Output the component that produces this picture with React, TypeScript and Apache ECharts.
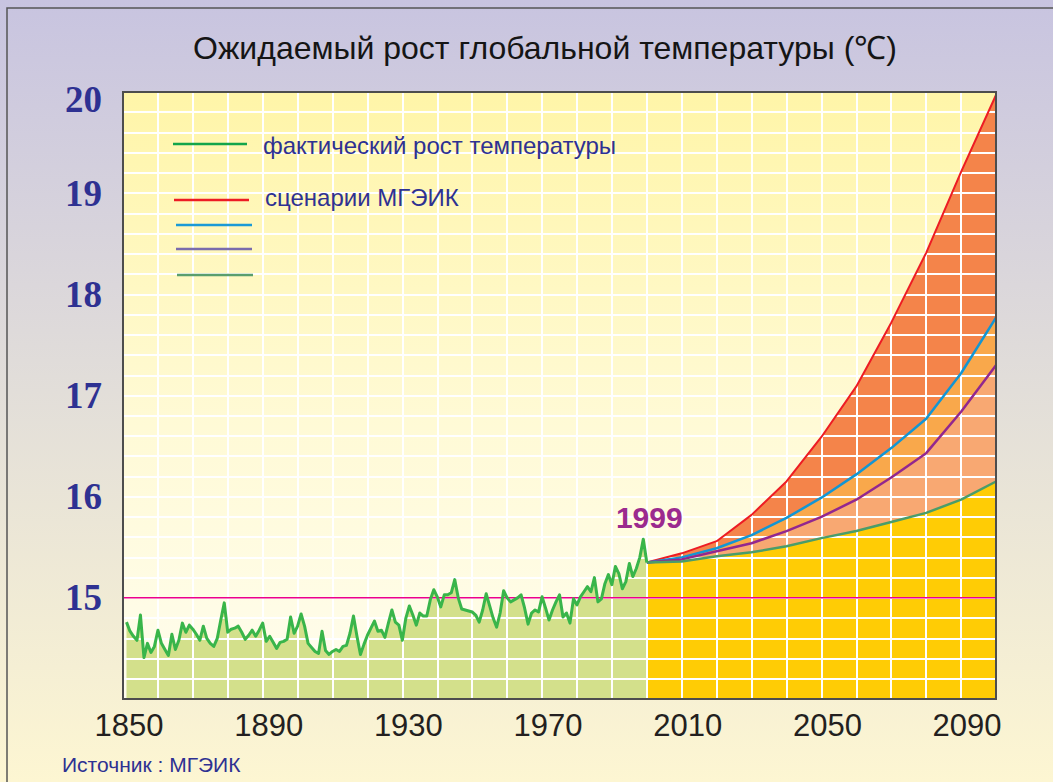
import React, { useEffect, useRef } from 'react';
import * as echarts from 'echarts';

const TITLE = 'Ожидаемый рост глобальной температуры (℃)';
const SOURCE = 'Источник : МГЭИК';
const LEGEND_ACTUAL = 'фактический рост температуры';
const LEGEND_IPCC = 'сценарии МГЭИК';
const HIGHLIGHT_YEAR = 1999;

const histStartYear = 1851;
const histTemps = [
  14.76, 14.67, 14.62, 14.58, 14.83, 14.41, 14.55, 14.46, 14.52, 14.68,
  14.55, 14.49, 14.43, 14.64, 14.49, 14.58, 14.75, 14.66, 14.73, 14.69,
  14.64, 14.58, 14.72, 14.60, 14.55, 14.52, 14.60, 14.78, 14.95, 14.66,
  14.69, 14.70, 14.72, 14.66, 14.59, 14.63, 14.68, 14.62, 14.68, 14.75,
  14.57, 14.62, 14.56, 14.50, 14.56, 14.57, 14.59, 14.81, 14.65, 14.72,
  14.84, 14.72, 14.55, 14.51, 14.47, 14.45, 14.67, 14.48, 14.44, 14.47,
  14.49, 14.47, 14.52, 14.53, 14.65, 14.82, 14.62, 14.44, 14.54, 14.63,
  14.70, 14.77, 14.67, 14.68, 14.61, 14.75, 14.88, 14.76, 14.73, 14.58,
  14.80, 14.92, 14.83, 14.73, 14.85, 14.82, 14.82, 14.98, 15.08, 15.01,
  14.91, 15.03, 15.03, 15.05, 15.18, 15.00, 14.89, 14.88, 14.87, 14.86,
  14.83, 14.76, 14.88, 15.04, 14.92, 14.80, 14.71, 14.85, 15.07, 15.00,
  14.96, 14.98, 15.00, 15.03, 14.90, 14.74, 14.85, 14.88, 14.86, 15.01,
  14.90, 14.78, 14.88, 14.96, 15.03, 14.81, 14.85, 14.75, 14.99, 14.93,
  15.01, 15.06, 15.11, 15.06, 15.20, 14.96, 14.99, 15.14, 15.23, 15.13,
  15.31, 15.24, 15.09, 15.16, 15.34, 15.21, 15.29, 15.40, 15.58,
];

const projYears = [2000, 2010, 2020, 2030, 2040, 2050, 2060, 2070, 2080, 2090, 2100];
const scenarioRed = [15.35, 15.44, 15.56, 15.82, 16.15, 16.59, 17.09, 17.72, 18.41, 19.21, 19.97];
const scenarioBlue = [15.35, 15.40, 15.49, 15.62, 15.79, 15.99, 16.22, 16.48, 16.77, 17.22, 17.77];
const scenarioPurple = [15.35, 15.38, 15.46, 15.54, 15.66, 15.80, 15.97, 16.19, 16.43, 16.84, 17.30];
const scenarioGreen = [15.35, 15.36, 15.41, 15.45, 15.51, 15.59, 15.66, 15.75, 15.84, 15.97, 16.15];

const baselineTemp = 15;
const xMin = 1850;
const xMax = 2100;
const xLabelYears = [1850, 1890, 1930, 1970, 2010, 2050, 2090];
const yMin = 14;
const yMax = 20;
const yLabelValues = [15, 16, 17, 18, 19, 20];

const FONT = '"Liberation Sans", Arial, sans-serif';
const SERIF = '"Liberation Serif", "Times New Roman", serif';
const BLUE_TEXT = '#2e3192';

export default function App() {
  const ref = useRef<HTMLDivElement>(null);

  useEffect(() => {
    if (!ref.current) return;
    const chart = echarts.init(ref.current, undefined, { renderer: 'svg' });

    const histPairs = histTemps.map((v, i) => [histStartYear + i, v]);
    const histWithJoin = [...histPairs, [projYears[0], scenarioGreen[0]]];
    const pairs = (arr: number[]) => projYears.map((y, i) => [y, arr[i]]);

    const areaSeries = (name: string, data: any[], color: string) => ({
      name,
      type: 'line',
      data,
      z: 1,
      symbol: 'none',
      silent: true,
      lineStyle: { width: 0, opacity: 0 },
      areaStyle: { color, opacity: 1, origin: 'start' },
    });
    const lineSeries = (name: string, data: any[], color: string, width: number, z = 4) => ({
      name,
      type: 'line',
      data,
      z,
      symbol: 'none',
      silent: true,
      lineStyle: { color, width, join: 'round' },
    });

    const histLine: any = lineSeries('hist', histWithJoin, '#39b54a', 3, 5);
    histLine.markPoint = {
      symbol: 'circle',
      symbolSize: 1,
      itemStyle: { color: 'rgba(0,0,0,0)' },
      data: [{ coord: [HIGHLIGHT_YEAR, histTemps[HIGHLIGHT_YEAR - histStartYear]], value: HIGHLIGHT_YEAR }],
      label: {
        show: true,
        position: 'top',
        distance: 6,
        offset: [6, 0],
        formatter: String(HIGHLIGHT_YEAR),
        color: '#9b2a8e',
        fontFamily: FONT,
        fontWeight: 'bold',
        fontSize: 30,
      },
    };

    const legendLine = (x1: number, x2: number, y: number, color: string, w = 2.5) => ({
      type: 'line',
      z: 50,
      shape: { x1, y1: y, x2, y2: y },
      style: { stroke: color, lineWidth: w },
    });
    const text = (x: number, y: number, t: string, font: string, fill: string, align = 'left') => ({
      type: 'text',
      z: 50,
      x,
      y,
      style: {
        text: t,
        font,
        fill,
        align,
        textAlign: align,
        verticalAlign: 'middle',
        textVerticalAlign: 'middle',
      },
    });

    chart.setOption({
      animation: false,
      backgroundColor: new echarts.graphic.LinearGradient(0, 0, 0, 1, [
        { offset: 0, color: '#c8c4e0' },
        { offset: 0.5, color: '#e2ded9' },
        { offset: 1, color: '#fdf6d2' },
      ]),
      grid: {
        left: 123,
        top: 92,
        width: 873,
        height: 607,
        show: true,
        borderWidth: 0,
        backgroundColor: new echarts.graphic.LinearGradient(0, 0, 0, 1, [
          { offset: 0, color: '#fff5a8' },
          { offset: 0.55, color: '#fffad6' },
          { offset: 1, color: '#fffdee' },
        ]),
      },
      xAxis: {
        type: 'value',
        min: xMin,
        max: xMax,
        interval: 10,
        z: 2,
        axisLine: { show: false },
        axisTick: { show: false },
        splitLine: { show: true, lineStyle: { color: '#ffffff', width: 2 } },
        axisLabel: {
          margin: 11,
          padding: [0, 0, 0, 12],
          color: '#231f20',
          fontFamily: FONT,
          fontSize: 31,
          formatter: (v: number) => (xLabelYears.includes(Math.round(v)) ? String(Math.round(v)) : ''),
        },
      },
      yAxis: {
        type: 'value',
        min: yMin,
        max: yMax,
        interval: 0.2,
        z: 2,
        axisLine: { show: false },
        axisTick: { show: false },
        splitLine: { show: true, lineStyle: { color: '#ffffff', width: 2 } },
        axisLabel: {
          margin: 21,
          color: BLUE_TEXT,
          fontFamily: SERIF,
          fontWeight: 'bold',
          fontSize: 37,
          formatter: (v: number) => {
            const r = Math.round(v);
            if (Math.abs(v - r) > 1e-6 || !yLabelValues.includes(r)) return '';
            return r === yMax ? `{top|${r}}` : String(r);
          },
          rich: {
            top: {
              padding: [14, 0, 0, 0],
              color: BLUE_TEXT,
              fontFamily: SERIF,
              fontWeight: 'bold',
              fontSize: 37,
            },
          },
        },
      },
      series: [
        areaSeries('histArea', histWithJoin, '#d3e08b'),
        areaSeries('redArea', pairs(scenarioRed), '#f4844a'),
        areaSeries('blueArea', pairs(scenarioBlue), '#f9a84b'),
        areaSeries('purpleArea', pairs(scenarioPurple), '#f8a872'),
        areaSeries('greenArea', pairs(scenarioGreen), '#ffcc05'),
        lineSeries('baseline', [[xMin, baselineTemp], [xMax, baselineTemp]], '#ec008c', 1.5, 3),
        histLine,
        lineSeries('red', pairs(scenarioRed), '#ed1c24', 2),
        lineSeries('blue', pairs(scenarioBlue), '#1296d4', 2.5),
        lineSeries('purple', pairs(scenarioPurple), '#92278f', 2.5),
        lineSeries('green', pairs(scenarioGreen), '#4a9d6a', 2.5),
      ],
      graphic: [
        {
          type: 'rect',
          z: 40,
          silent: true,
          shape: { x: 7, y: 8, width: 1100, height: 820 },
          style: { fill: 'none', stroke: '#555555', lineWidth: 1.5 },
        },
        {
          type: 'rect',
          z: 40,
          silent: true,
          shape: { x: 123, y: 92, width: 873, height: 607 },
          style: { fill: 'none', stroke: '#4d4d4d', lineWidth: 2 },
        },
        text(545, 48, TITLE, `32px ${FONT}`, '#151515', 'center'),
        legendLine(173, 247, 144, '#12a54a'),
        text(263, 145, LEGEND_ACTUAL, `24px ${FONT}`, BLUE_TEXT),
        legendLine(174, 249, 200, '#ed1c24'),
        text(265, 197, LEGEND_IPCC, `24px ${FONT}`, BLUE_TEXT),
        legendLine(176, 252, 225, '#1a9ad6'),
        legendLine(176, 252, 249, '#7a6cad'),
        legendLine(177, 253, 275, '#5a9e6e'),
        text(62, 764, SOURCE, `21px ${FONT}`, BLUE_TEXT),
      ],
    });

    return () => chart.dispose();
  }, []);

  return (
    <div
      ref={ref}
      style={{ position: 'fixed', left: 0, top: 0, width: 1053, height: 782 }}
    />
  );
}
